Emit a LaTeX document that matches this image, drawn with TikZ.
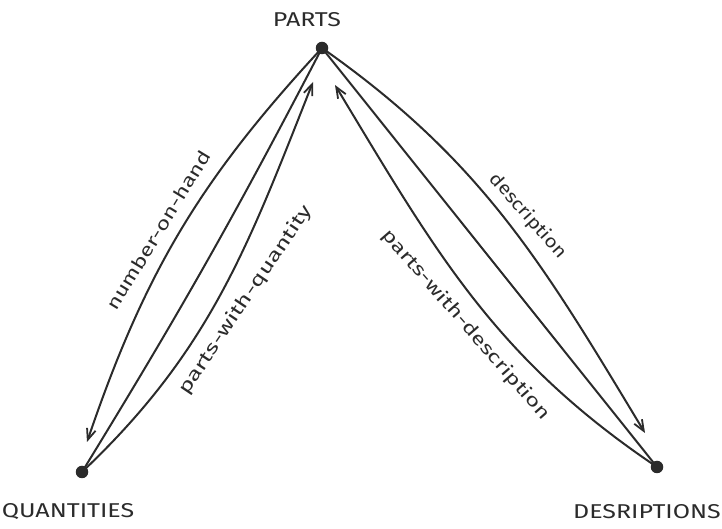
\documentclass[tikz,border=0pt]{standalone}
\usepackage{fontspec}
\setmainfont{Fira Sans}
\newfontfamily\handcaps[FakeStretch=1.25]{Fira Sans}
\newfontfamily\handlow[FakeStretch=1.4]{Fira Sans}
\usetikzlibrary{arrows.meta}
\definecolor{ink}{HTML}{2B2B2B}
\begin{document}
\begin{tikzpicture}[x=1pt,y=1pt,
  pen/.style={draw=ink, line width=2pt, line cap=round},
  arr/.style={pen, -{Straight Barb[length=11pt,width=9pt,line width=1.8pt]}},
  vertex/.style={circle, fill=ink, inner sep=0pt, minimum size=12.5pt},
  title/.style={text=ink, font=\handcaps\fontsize{20}{22}\selectfont, inner sep=0pt},
  lbl/.style={text=ink, font=\handlow\fontsize{18}{20}\selectfont, inner sep=1pt}]
\useasboundingbox (0,0) rectangle (722,529);

% vertices
\node[vertex] (P) at (322,481) {};
\node[vertex] (Q) at (82,57) {};
\node[vertex] (D) at (657,62) {};

% free arrow ends
\coordinate (qtip) at (87,87);
\coordinate (ptipL) at (313,447);
\coordinate (ptipR) at (335,444);
\coordinate (dtip) at (645,96);

% vertex names
\node[title] (tP) at (307,509) {PARTS};
\node[title] (tQ) at (68,17) {QUANTITIES};
\node[title] (tD) at (647,17) {DESRIPTIONS};

% left side connectors
\draw[arr] (P.center) to[bend right=12] (qtip);
\draw[pen] (P.center) to[bend left=2] (Q.center);
\draw[arr] (Q.center) to[out=43.4, in=248.4] (ptipL);

% right side connectors
\draw[arr] (P.center) to[out=-35.1, in=121.1] (dtip);
\draw[pen] (P.center) -- (D.center);
\draw[arr] (D.center) to[out=146.1, in=301.1] (ptipR);

% connector labels
\node[lbl, rotate=58.6, xscale=0.93] (l1) at (158.6,299) {number-on-hand};
\node[lbl, rotate=56] (l2) at (245.5,229) {parts-with-quantity};
\node[lbl, rotate=-48.7, xscale=0.82] (l3) at (528,313) {description};
\node[lbl, rotate=-49, xscale=0.95] (l4) at (466,204) {parts-with-description};
\end{tikzpicture}
\end{document}
